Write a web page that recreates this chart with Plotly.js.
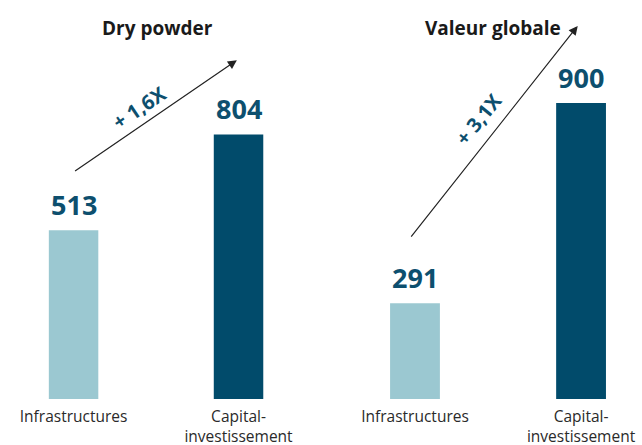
<!DOCTYPE html>
<html>
<head>
<meta charset="utf-8">
<script src="https://cdn.plot.ly/plotly-3.0.1.min.js"></script>
<style>html,body{margin:0;padding:0;background:#fff;}#chart{width:642px;height:445px;}</style>
</head>
<body>
<div id="chart"></div>
<script>
var categories = ["Infrastructures", "Capital-<br>investissement"];
var dryPowder = [513, 804];
var valeurGlobale = [291, 900];
var panelTitles = ["Dry powder", "Valeur globale"];
var multipliers = ["+ 1,6X", "+ 3,1X"];
var barColors = ["#9BC8D1", "#014B6B"];

var valueColor = "#0D4F6E";
var numFont = {family: "Open Sans, sans-serif", size: 27, color: valueColor, weight: 700};

var traces = [
  {type: "bar", x: categories, y: dryPowder, xaxis: "x", yaxis: "y",
   marker: {color: barColors}, hoverinfo: "none", showlegend: false},
  {type: "bar", x: categories, y: valeurGlobale, xaxis: "x2", yaxis: "y2",
   marker: {color: barColors}, hoverinfo: "none", showlegend: false}
];

var annotations = [];
dryPowder.forEach(function (v, i) {
  annotations.push({xref: "x", yref: "y", x: categories[i], y: v, text: "<b>" + v + "</b>",
    showarrow: false, xanchor: "center", yanchor: "bottom", yshift: 5, font: numFont});
});
valeurGlobale.forEach(function (v, i) {
  annotations.push({xref: "x2", yref: "y2", x: categories[i], y: v, text: "<b>" + v + "</b>",
    showarrow: false, xanchor: "center", yanchor: "bottom", yshift: 5, font: numFont});
});
// panel titles
var titleFont = {family: "Open Sans, sans-serif", size: 19, color: "#1a1a1a"};
annotations.push({xref: "paper", yref: "paper", x: 0.245, y: 1.128, xanchor: "center", yanchor: "middle",
  text: "<b>" + panelTitles[0] + "</b>", showarrow: false, font: titleFont});
annotations.push({xref: "paper", yref: "paper", x: 0.768, y: 1.128, xanchor: "center", yanchor: "middle",
  text: "<b>" + panelTitles[1] + "</b>", showarrow: false, font: titleFont});
// growth arrows
annotations.push({xref: "x", yref: "y", axref: "x", ayref: "y", x: 0.99, y: 1030, ax: 0.0, ay: 690,
  text: "", showarrow: true, arrowhead: 2, arrowsize: 1.5, arrowwidth: 1.2, arrowcolor: "#222"});
annotations.push({xref: "x2", yref: "y2", axref: "x2", ayref: "y2", x: 0.98, y: 1134, ax: -0.03, ay: 489,
  text: "", showarrow: true, arrowhead: 2, arrowsize: 1.5, arrowwidth: 1.2, arrowcolor: "#222"});
// multiplier labels
var multFont = {family: "Open Sans, sans-serif", size: 20, color: valueColor};
annotations.push({xref: "x", yref: "y", x: 0.40, y: 885, xanchor: "center", yanchor: "middle",
  text: "<b>" + multipliers[0] + "</b>", showarrow: false, textangle: -34, font: multFont});
annotations.push({xref: "x2", yref: "y2", x: 0.38, y: 850, xanchor: "center", yanchor: "middle",
  text: "<b>" + multipliers[1] + "</b>", showarrow: false, textangle: -51, font: multFont});

var axisX = {showgrid: false, zeroline: false, showline: false, ticks: "", ticklabelstandoff: 6,
  tickfont: {family: "Open Sans, sans-serif", size: 15.5, color: "#2a2a2a"}, fixedrange: true};
var axisY = {showgrid: false, zeroline: false, showline: false, showticklabels: false,
  ticks: "", range: [0, 1000], fixedrange: true};

var layout = {
  width: 642, height: 445,
  margin: {l: 0, r: 0, t: 70, b: 46},
  paper_bgcolor: "#fff", plot_bgcolor: "#fff",
  bargap: 0.7,
  xaxis: Object.assign({}, axisX, {domain: [0, 0.5], range: [-0.446, 1.5], anchor: "y"}),
  xaxis2: Object.assign({}, axisX, {domain: [0.5, 1], range: [-0.566, 1.367], anchor: "y2"}),
  yaxis: Object.assign({}, axisY, {anchor: "x"}),
  yaxis2: Object.assign({}, axisY, {anchor: "x2"}),
  annotations: annotations
};

Plotly.newPlot("chart", traces, layout, {displayModeBar: false, staticPlot: true});
</script>
</body>
</html>
